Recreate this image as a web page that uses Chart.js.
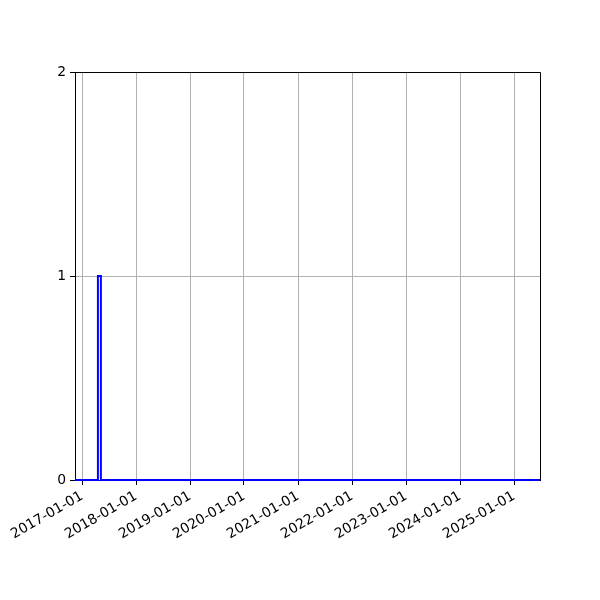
<!DOCTYPE html>
<html>
<head>
<meta charset="utf-8">
<script src="https://cdn.jsdelivr.net/npm/chart.js@4"></script>
<style>
  html, body { margin: 0; padding: 0; background: #fff; }
  #wrap { width: 600px; height: 600px; }
</style>
</head>
<body>
<div id="wrap"><canvas id="chart" width="600" height="600"></canvas></div>
<script>
// step series
const dates = ['2016-11-14', '2017-04-18', '2017-05-08', '2025-06-25'];
const values = [0, 1, 0, 0];
const yearTicks = ['2017-01-01', '2018-01-01', '2019-01-01', '2020-01-01', '2021-01-01',
  '2022-01-01', '2023-01-01', '2024-01-01', '2025-01-01'];
const yTicks = [0, 1, 2];

const toMs = d => Date.parse(d + 'T00:00:00Z');
const points = dates.map((d, i) => ({ x: toMs(d), y: values[i] }));

// matplotlib-like frame on top and right
const frame = {
  id: 'frame',
  afterDraw(chart) {
    const { ctx, chartArea: a } = chart;
    ctx.save();
    ctx.strokeStyle = '#000';
    ctx.lineWidth = 1;
    ctx.beginPath();
    ctx.moveTo(a.left, a.top + 0.5);
    ctx.lineTo(a.right + 0.5, a.top + 0.5);
    ctx.lineTo(a.right + 0.5, a.bottom);
    ctx.stroke();
    ctx.restore();
  }
};

Chart.defaults.font.family = 'DejaVu Sans';
Chart.defaults.font.size = 13.9;
Chart.defaults.color = '#000';

new Chart(document.getElementById('chart').getContext('2d'), {
  type: 'line',
  data: {
    datasets: [{
      data: points,
      stepped: 'before',
      borderColor: '#0000ff',
      borderWidth: 2,
      pointRadius: 0,
      fill: false,
      clip: false
    }]
  },
  options: {
    responsive: false,
    animation: false,
    layout: { padding: { top: 72, right: 60, left: 0, bottom: 0 } },
    plugins: { legend: { display: false }, tooltip: { enabled: false } },
    scales: {
      x: {
        type: 'linear',
        min: toMs(dates[0]),
        max: toMs(dates[dates.length - 1]),
        afterBuildTicks: s => { s.ticks = yearTicks.map(d => ({ value: toMs(d) })); },
        afterFit: s => { s.height = 120; },
        ticks: {
          minRotation: 30,
          maxRotation: 30,
          padding: 3,
          autoSkip: false,
          callback: v => new Date(v).toISOString().slice(0, 10)
        },
        grid: { color: '#b0b0b0', tickColor: '#000', tickLength: 5, lineWidth: 1 },
        border: { color: '#000', width: 1 }
      },
      y: {
        min: 0,
        max: 2,
        afterBuildTicks: s => { s.ticks = yTicks.map(v => ({ value: v })); },
        afterFit: s => { s.width = 75; },
        ticks: { padding: 4, callback: v => String(v) },
        grid: { color: '#b0b0b0', tickColor: '#000', tickLength: 5, lineWidth: 1 },
        border: { color: '#000', width: 1 }
      }
    }
  },
  plugins: [frame]
});
</script>
</body>
</html>
